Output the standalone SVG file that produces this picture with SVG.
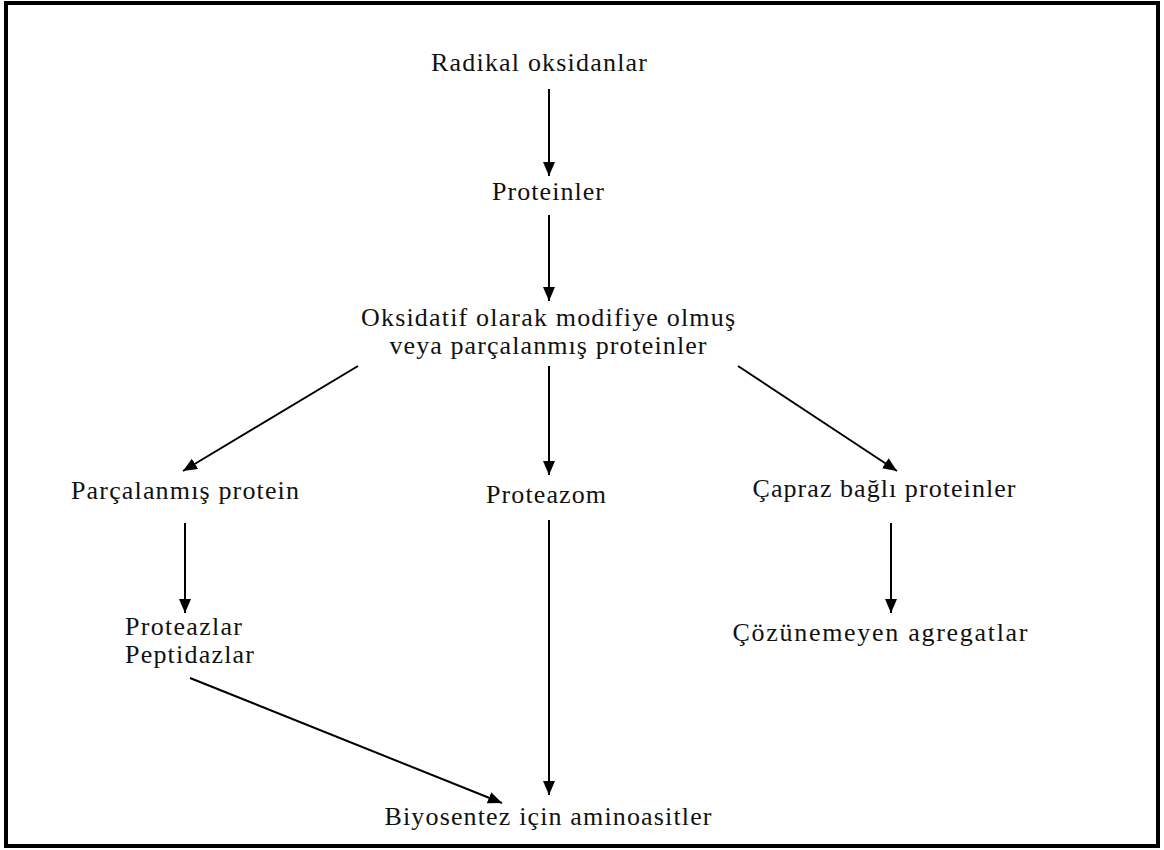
<svg xmlns="http://www.w3.org/2000/svg" width="1164" height="850" viewBox="0 0 1164 850">
<style>
text{font-family:"Liberation Serif","Times New Roman",serif;font-size:26px;fill:#111}
.c{text-anchor:middle}
.e{stroke:#000;stroke-width:2;fill:none;marker-end:url(#ah)}
</style>
<defs>
<marker id="ah" viewBox="0 0 14 12" refX="14" refY="6" markerWidth="14" markerHeight="12" markerUnits="userSpaceOnUse" orient="auto">
<path d="M0,0 L14,6 L0,12 z" fill="#000"/>
</marker>
</defs>
<rect x="0" y="0" width="1164" height="850" fill="#fff"/>
<rect x="6" y="3" width="1152" height="843" fill="none" stroke="#000" stroke-width="4"/>
<g id="connectors">
<line class="e" x1="549" y1="89" x2="549" y2="176"/>
<line class="e" x1="549" y1="215" x2="549" y2="301"/>
<line class="e" x1="358" y1="366" x2="183" y2="471"/>
<line class="e" x1="549" y1="366" x2="549" y2="475"/>
<line class="e" x1="738" y1="366" x2="897" y2="471"/>
<line class="e" x1="185" y1="523" x2="185" y2="613"/>
<line class="e" x1="891" y1="523" x2="891" y2="613"/>
<line class="e" x1="190" y1="678" x2="502" y2="803"/>
<line class="e" x1="549" y1="520" x2="549" y2="795"/>
</g>
<g id="n-radikal"><text class="c" x="539" y="71" textLength="216" lengthAdjust="spacing">Radikal oksidanlar</text></g>
<g id="n-proteinler"><text class="c" x="548" y="200" textLength="112" lengthAdjust="spacing">Proteinler</text></g>
<g id="n-oksidatif">
<text class="c"><tspan x="548" y="326" textLength="374" lengthAdjust="spacing">Oksidatif olarak modifiye olmuş</tspan><tspan x="548" y="354" textLength="317" lengthAdjust="spacing">veya parçalanmış proteinler</tspan></text>
</g>
<g id="n-parcalanmis"><text class="c" x="185" y="499" textLength="228" lengthAdjust="spacing">Parçalanmış protein</text></g>
<g id="n-proteazom"><text class="c" x="546" y="503" textLength="120" lengthAdjust="spacing">Proteazom</text></g>
<g id="n-capraz"><text class="c" x="884" y="497" textLength="263" lengthAdjust="spacing">Çapraz bağlı proteinler</text></g>
<g id="n-proteazlar">
<text><tspan x="125" y="635" textLength="117" lengthAdjust="spacing">Proteazlar</tspan><tspan x="125" y="663" textLength="129" lengthAdjust="spacing">Peptidazlar</tspan></text>
</g>
<g id="n-cozunemeyen"><text class="c" x="880" y="641" textLength="295" lengthAdjust="spacing">Çözünemeyen agregatlar</text></g>
<g id="n-biyosentez"><text class="c" x="548" y="825" textLength="327" lengthAdjust="spacing">Biyosentez için aminoasitler</text></g>
</svg>
